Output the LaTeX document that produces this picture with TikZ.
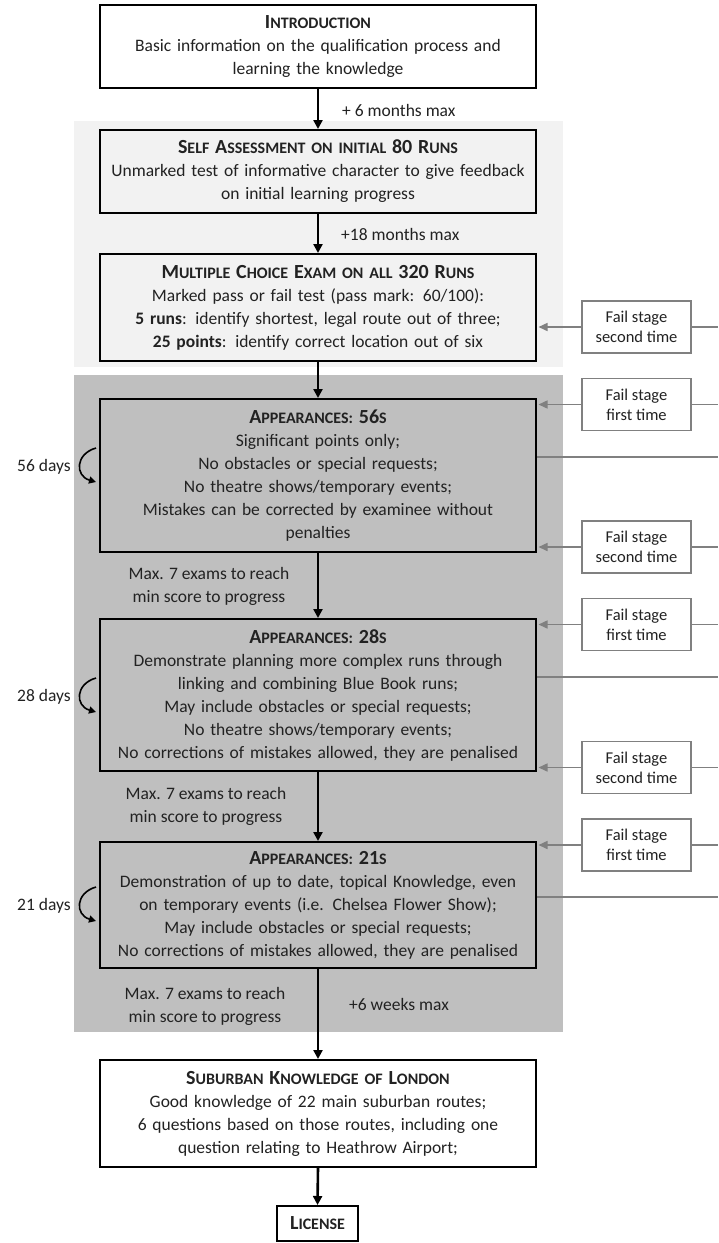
\documentclass[tikz,border=0pt]{standalone}
\usepackage{fontspec}
\setmainfont{Carlito}
\usetikzlibrary{arrows.meta,calc}
\definecolor{txt}{HTML}{222222}
\definecolor{lightbg}{HTML}{F2F2F2}
\definecolor{darkbg}{HTML}{BFBFBF}
\definecolor{failgray}{HTML}{808080}
\newcommand\Bg[1]{{\fontsize{20}{23}\selectfont #1}}
\newcommand\bodyfont{\fontsize{17.5}{23}\selectfont}
\newcommand\ttl{\fontsize{16}{23}\selectfont\bfseries}
\newcommand\failfont{\fontsize{16.5}{20}\selectfont}
\begin{document}
\begin{tikzpicture}[x=1pt,y=-1pt,
  mainbox/.style={draw=black, line width=2pt, text width=430pt, align=center,
    minimum width=436pt, inner sep=0pt, font=\bodyfont, text=txt},
  failbox/.style={draw=failgray, line width=1.5pt, fill=white, align=center,
    minimum width=109pt, minimum height=52pt, inner sep=0pt, font=\failfont, text=txt},
  mainarrow/.style={draw=black, line width=2.6pt, -{Triangle[length=9pt,width=9pt]}},
  failarrow/.style={draw=failgray, line width=1.5pt, -{Triangle[length=9pt,width=8pt]}, shorten >=1.5pt},
  failline/.style={draw=failgray, line width=1.5pt},
  looparrow/.style={draw=black, line width=1.6pt, -{Triangle[length=7pt,width=7pt]}},
  lbl/.style={font=\bodyfont, text=txt, inner sep=0pt, align=center}
]
\useasboundingbox (0,0) rectangle (718,1243);
\fill[white] (0,0) rectangle (718,1243);
% backgrounds
\fill[lightbg] (74,121) rectangle (563,367);
\fill[darkbg] (74,375) rectangle (563,1032);

% main boxes
\node[mainbox, fill=white, minimum height=83pt] (intro) at (318,46.5)
  {{\ttl \Bg{I}NTRODUCTION}\\Basic information on the qualification process and\\learning the knowledge};
\node[mainbox, fill=lightbg, minimum height=83pt] (self) at (318,171.5)
  {{\ttl \Bg{S}ELF \Bg{A}SSESSMENT ON INITIAL \Bg{80} \Bg{R}UNS}\\Unmarked test of informative character to give feedback\\on initial learning progress};
\node[mainbox, fill=lightbg, minimum height=107pt] (mcq) at (318,307.5)
  {{\ttl \Bg{M}ULTIPLE \Bg{C}HOICE \Bg{E}XAM ON ALL \Bg{320} \Bg{R}UNS}\\Marked pass or fail test (pass mark: 60/100):\\\textbf{5 runs}: identify shortest, legal route out of three;\\\textbf{25 points}: identify correct location out of six};
\node[mainbox, fill=darkbg, minimum height=153pt] (b56) at (318,475.5)
  {{\ttl \Bg{A}PPEARANCES: \Bg{56}S}\\Significant points only;\\No obstacles or special requests;\\No theatre shows/temporary events;\\Mistakes can be corrected by examinee without\\penalties};
\node[mainbox, fill=darkbg, minimum height=152pt] (b28) at (318,695)
  {{\ttl \Bg{A}PPEARANCES: \Bg{28}S}\\Demonstrate planning more complex runs through\\linking and combining Blue Book runs;\\May include obstacles or special requests;\\No theatre shows/temporary events;\\No corrections of mistakes allowed, they are penalised};
\node[mainbox, fill=darkbg, minimum height=126pt] (b21) at (318,905)
  {{\ttl \Bg{A}PPEARANCES: \Bg{21}S}\\Demonstration of up to date, topical Knowledge, even\\on temporary events (i.e. Chelsea Flower Show);\\May include obstacles or special requests;\\No corrections of mistakes allowed, they are penalised};
\node[mainbox, fill=white, minimum height=107pt] (sub) at (318,1113.5)
  {{\ttl \Bg{S}UBURBAN \Bg{K}NOWLEDGE OF \Bg{L}ONDON}\\Good knowledge of 22 main suburban routes;\\6 questions based on those routes, including one\\question relating to Heathrow Airport;};
\node[draw=black, line width=2pt, fill=white, minimum width=81pt, minimum height=35pt,
  inner sep=0pt, text=txt] (lic) at (317.5,1223.5) {\ttl \Bg{L}ICENSE};

% main arrows
\draw[mainarrow] (intro.south) -- (self.north);
\draw[mainarrow] (self.south) -- (mcq.north);
\draw[mainarrow] (mcq.south) -- (b56.north);
\draw[mainarrow] (b56.south) -- (b28.north);
\draw[mainarrow] (b28.south) -- (b21.north);
\draw[mainarrow] (b21.south) -- (sub.north);
\draw[mainarrow] (sub.south) -- (lic.north);

% arrow labels
\node[lbl, anchor=west] (t1) at (342,110) {+ 6 months max};
\node[lbl, anchor=west] (t2) at (341,234) {+18 months max};
\node[lbl] (t3) at (209,586) {Max. 7 exams to reach\\min score to progress};
\node[lbl] (t4) at (206,806) {Max. 7 exams to reach\\min score to progress};
\node[lbl] (t5) at (205,1006) {Max. 7 exams to reach\\min score to progress};
\node[lbl, anchor=west] (t6) at (349,1004) {+6 weeks max};

% fail boxes
\node[failbox] (f1) at (636.5,327) {Fail stage\\second time};
\node[failbox] (f2) at (636.5,404.5) {Fail stage\\first time};
\node[failbox] (f3) at (636.5,547) {Fail stage\\second time};
\node[failbox] (f4) at (636.5,624.5) {Fail stage\\first time};
\node[failbox] (f5) at (636.5,767.5) {Fail stage\\second time};
\node[failbox] (f6) at (636.5,845) {Fail stage\\first time};

\foreach \f/\m in {f1/mcq,f2/b56,f3/b56,f4/b28,f5/b28,f6/b21}{
  \draw[failarrow] (\f.west) -- (\f.west -| \m.east);
  \coordinate (\f r) at (718,0);
  \draw[failline] (\f.east) -- (\f.east -| \f r);
}
% lines leaving the appearance boxes
\coordinate (e56) at (718,457);
\coordinate (e28) at (718,677);
\coordinate (e21) at (718,897);
\draw[failline] (e56 -| b56.east) -- (e56);
\draw[failline] (e28 -| b28.east) -- (e28);
\draw[failline] (e21 -| b21.east) -- (e21);

% loop labels and arrows
\node[lbl, anchor=east] (d56) at (71,467) {56 days};
\node[lbl, anchor=east] (d28) at (71,697) {28 days};
\node[lbl, anchor=east] (d21) at (71,906) {21 days};
\foreach \b/\d in {b56/d56,b28/d28,b21/d21}{
  \coordinate (\d a) at ($(\d.east -| \b.west)+(-3,-19)$);
  \coordinate (\d b) at ($(\d.east -| \b.west)+(-3,15)$);
  \draw[looparrow] (\d a) .. controls ($(\d a)+(-21,6)$) and ($(\d b)+(-21,-6)$) .. (\d b);
}
\end{tikzpicture}
\end{document}
